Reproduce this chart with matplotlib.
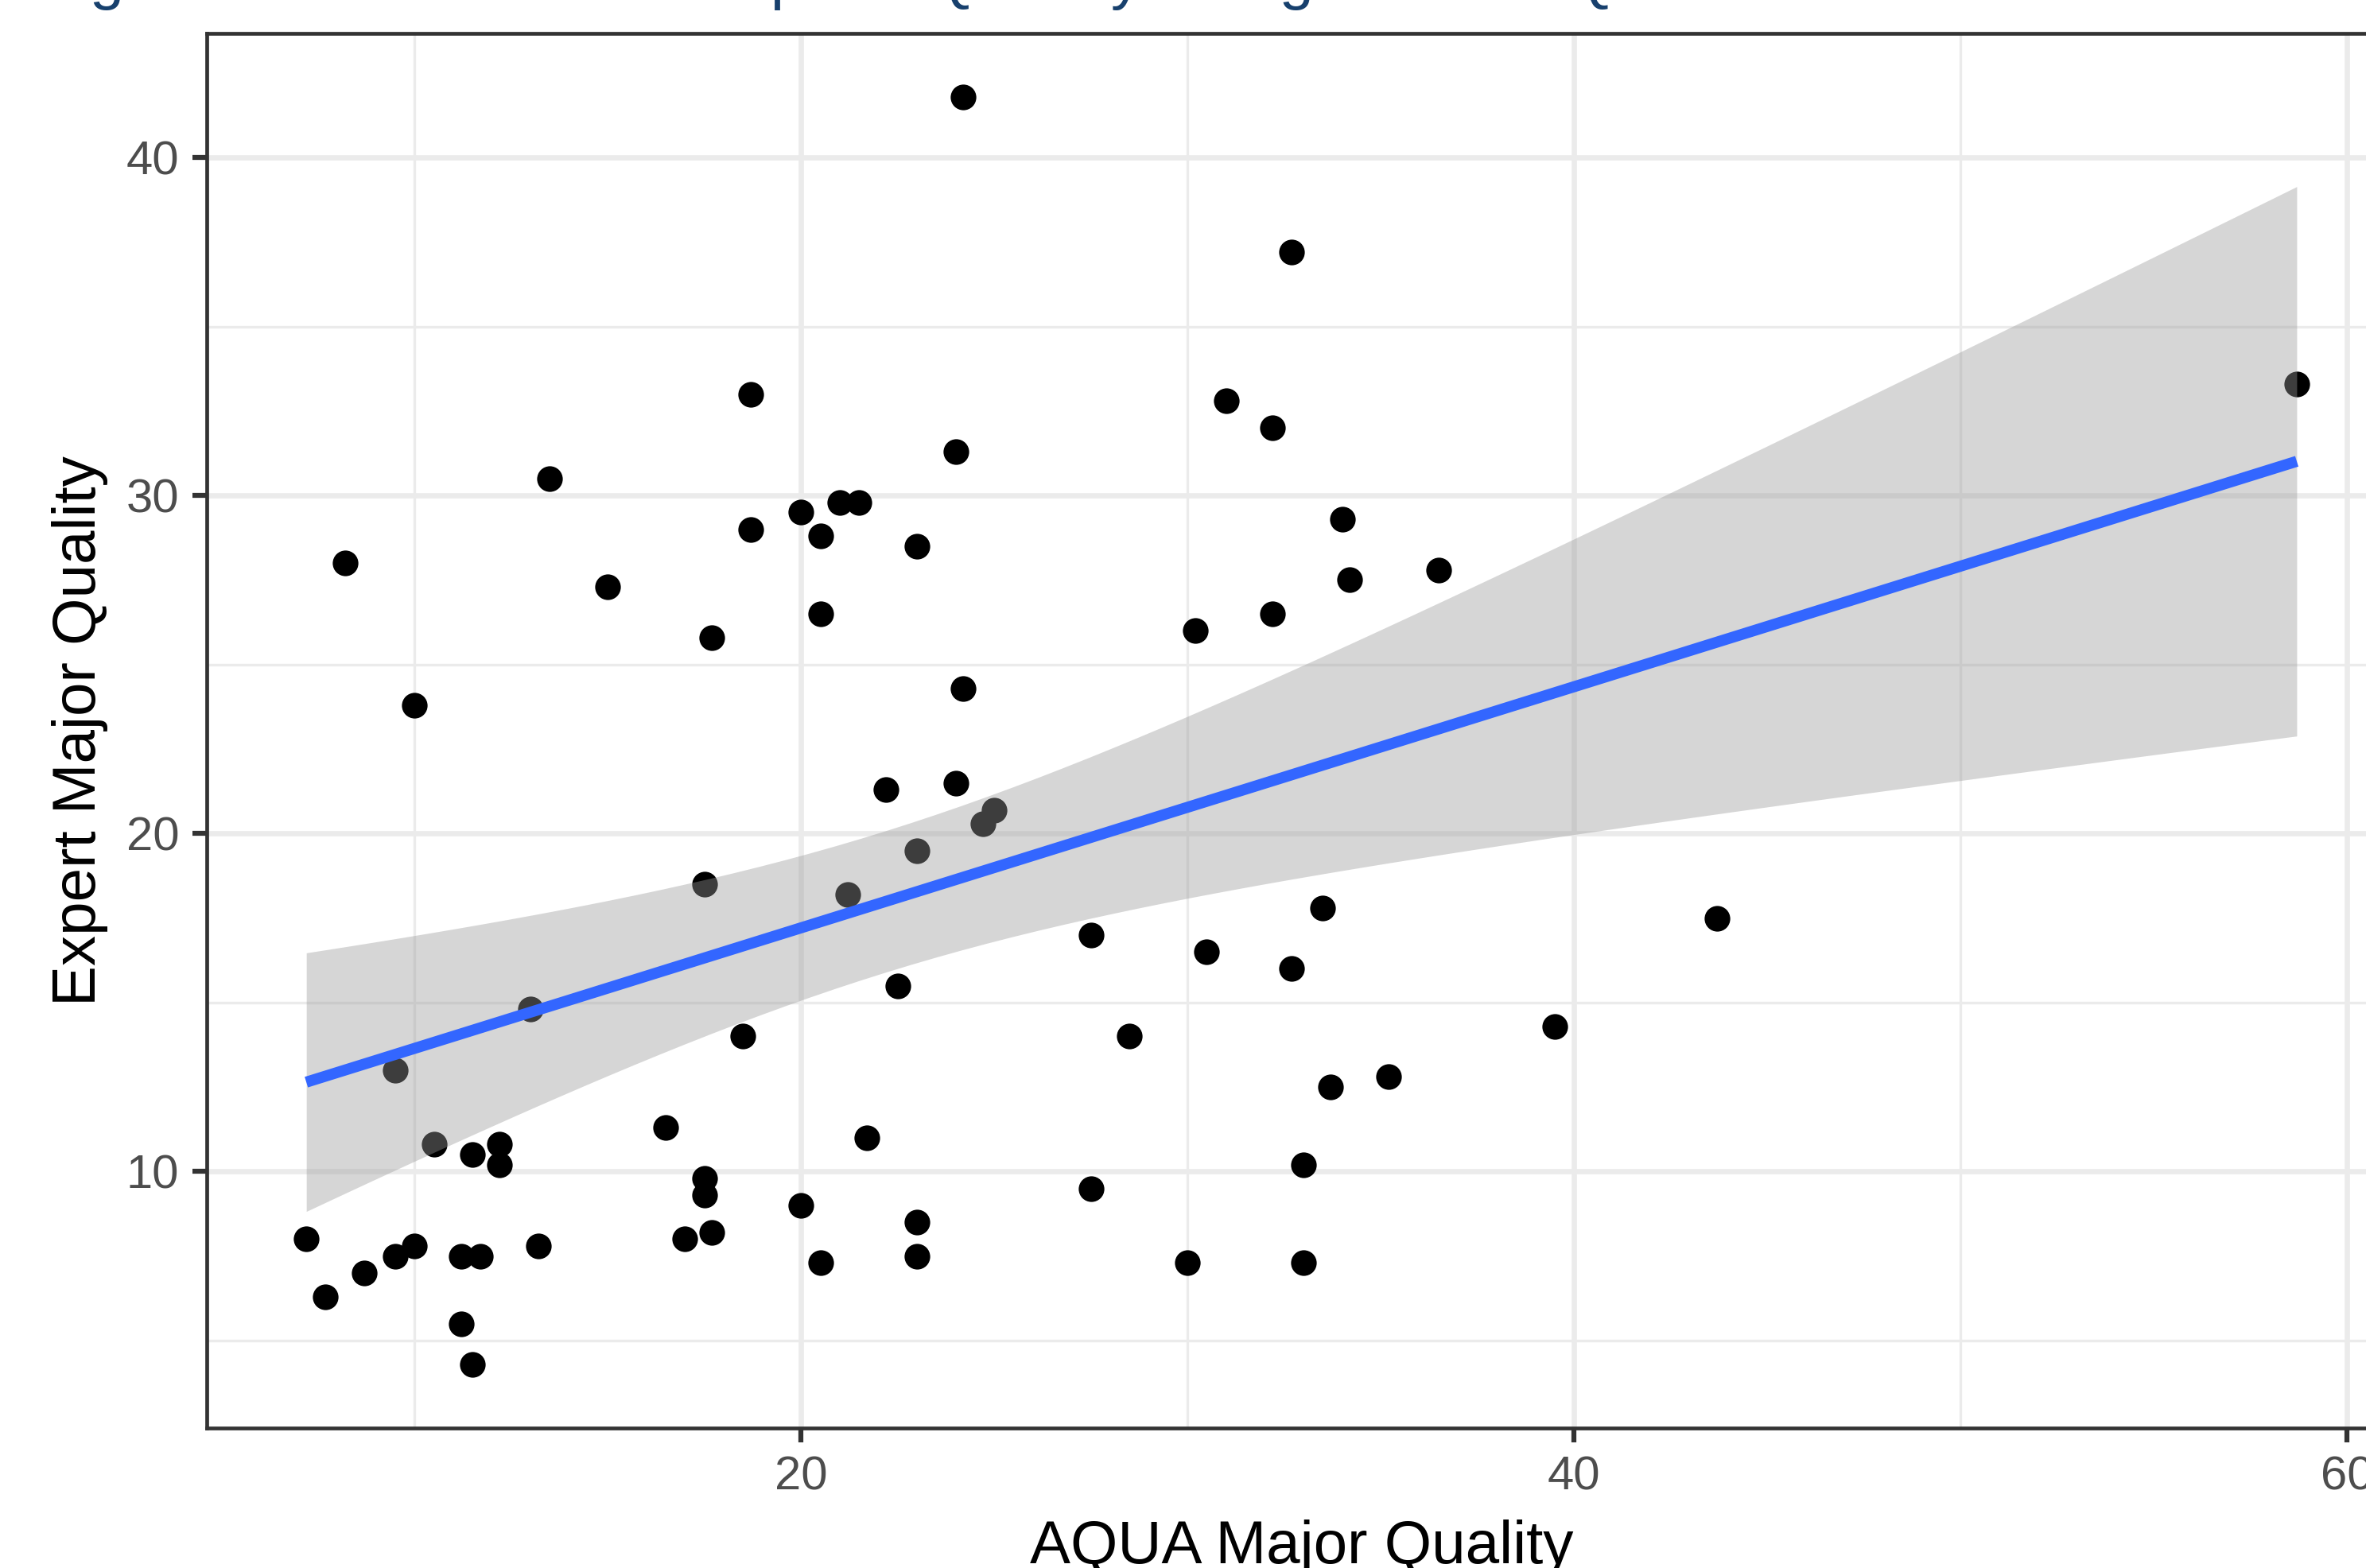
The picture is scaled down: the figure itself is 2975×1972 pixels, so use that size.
import numpy as np
import matplotlib
matplotlib.use("Agg")
import matplotlib.pyplot as plt
from matplotlib.ticker import MultipleLocator

plt.rcParams['font.family'] = ['Liberation Sans', 'DejaVu Sans']

# AQUA vs expert major quality scores
aqua_quality = [24.2, 32.7, 58.7, 18.7, 31.0, 32.2, 24.0, 13.5, 21.0, 21.5,
                20.0, 34.0, 18.7, 20.5, 23.0, 8.2, 36.5, 34.2, 15.0, 20.5,
                32.2, 30.2, 17.7, 24.2, 10.0, 24.0, 22.2, 25.0, 24.7, 23.0,
                17.5, 21.2, 33.5, 43.7, 27.5, 30.5, 32.7, 22.5, 13.0, 39.5,
                18.5, 28.5, 9.5, 35.2, 33.7, 16.5, 21.7, 10.5, 12.2, 11.5,
                12.2, 33.0, 17.5, 27.5, 17.5, 20.0, 23.0, 17.7, 7.2, 17.0,
                13.2, 10.0, 9.5, 11.2, 11.7, 23.0, 20.5, 30.0, 33.0, 8.7,
                7.7, 11.2, 11.5]
expert_quality = [41.8, 37.2, 33.3, 33.0, 32.8, 32.0, 31.3, 30.5, 29.8, 29.8,
                  29.5, 29.3, 29.0, 28.8, 28.5, 28.0, 27.8, 27.5, 27.3, 26.5,
                  26.5, 26.0, 25.8, 24.3, 23.8, 21.5, 21.3, 20.7, 20.3, 19.5,
                  18.5, 18.2, 17.8, 17.5, 17.0, 16.5, 16.0, 15.5, 14.8, 14.3,
                  14.0, 14.0, 13.0, 12.8, 12.5, 11.3, 11.0, 10.8, 10.8, 10.5,
                  10.2, 10.2, 9.8, 9.5, 9.3, 9.0, 8.5, 8.2, 8.0, 8.0,
                  7.8, 7.8, 7.5, 7.5, 7.5, 7.5, 7.3, 7.3, 7.3, 7.0,
                  6.3, 5.5, 4.3]

x = np.array(aqua_quality)
y = np.array(expert_quality)

# linear fit with 95% confidence band (like geom_smooth(method="lm"))
n = len(x)
slope, intercept = np.polyfit(x, y, 1)
resid = y - (intercept + slope * x)
s = np.sqrt(np.sum(resid ** 2) / (n - 2))
sxx = np.sum((x - x.mean()) ** 2)
t_crit = 1.994  # t(0.975, df=71)
xs = np.linspace(x.min(), x.max(), 80)
fit = intercept + slope * xs
se = s * np.sqrt(1 / n + (xs - x.mean()) ** 2 / sxx)

fig = plt.figure(figsize=(29.75, 19.72), dpi=100)
# panel runs off the right edge like in the reference crop
ax = fig.add_axes([0.0874, 0.0895, 0.9254, 0.8893])

ax.scatter(x, y, s=540, color='black', linewidths=0, zorder=3)
ax.fill_between(xs, fit - t_crit * se, fit + t_crit * se, color='#999999',
                alpha=0.4, linewidth=0, zorder=4)
ax.plot(xs, fit, color='#3366FF', linewidth=10, zorder=5, solid_capstyle='butt')

xpad = 0.05 * (x.max() - x.min())
ypad = 0.05 * (y.max() - y.min())
ax.set_xlim(x.min() - xpad, x.max() + xpad)
ax.set_ylim(y.min() - ypad, y.max() + ypad)

ax.xaxis.set_major_locator(MultipleLocator(20))
ax.xaxis.set_minor_locator(MultipleLocator(10))
ax.yaxis.set_major_locator(MultipleLocator(10))
ax.yaxis.set_minor_locator(MultipleLocator(5))
ax.grid(which='major', color='#EBEBEB', linewidth=4.8, zorder=0)
ax.grid(which='minor', color='#EBEBEB', linewidth=2.4, zorder=0)
ax.set_axisbelow(True)

for sp in ax.spines.values():
    sp.set_color('#333333')
    sp.set_linewidth(3.4)

ax.tick_params(which='major', length=13, width=4.5, color='#333333', pad=12,
               labelsize=43, labelcolor='#4D4D4D')
ax.tick_params(which='minor', length=0)

ax.set_xlabel('AQUA Major Quality', fontsize=55, color='black')
ax.xaxis.set_label_coords(0.5, -0.066)
ax.set_ylabel('Expert Major Quality', fontsize=55, color='black')
ax.yaxis.set_label_coords(-0.045, 0.5)

# caption sits above the crop, only its descenders show
fig.text(0.016, 1.0015, 'Figure 5: Linear relationship of AQUA by rating versus AQUA',
         fontsize=56, color='#17406D', ha='left', va='baseline')

fig.savefig('out.png', dpi=100)
